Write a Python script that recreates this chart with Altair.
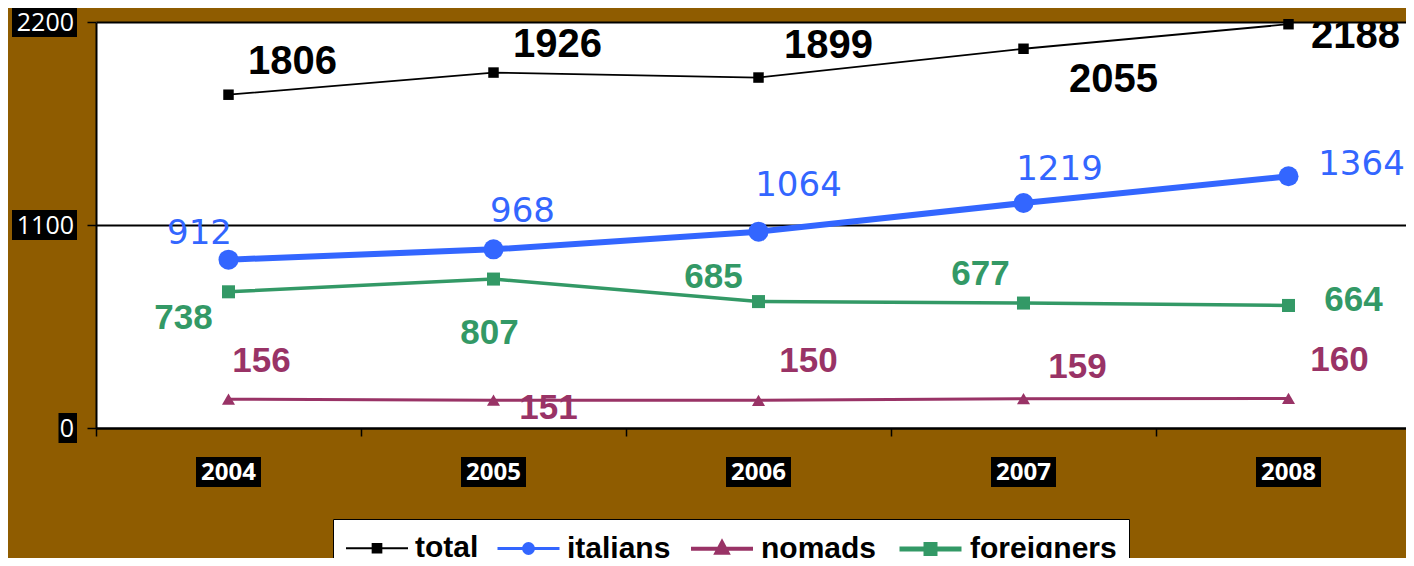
import altair as alt
import pandas as pd

# ---------------- data ----------------
years = ["2004", "2005", "2006", "2007", "2008"]
series = ["total", "italians", "nomads", "foreigners"]
total = [1806, 1926, 1899, 2055, 2188]
italians = [912, 968, 1064, 1219, 1364]
nomads = [156, 151, 150, 159, 160]
foreigners = [738, 807, 685, 677, 664]
y_ticks = [0, 1100, 2200]

# ---------------- styling ----------------
colors = ["#000000", "#3366FF", "#993366", "#339966"]
line_widths = [1.8, 6, 3, 3.5]
point_shapes = ["square", "circle", "triangle-up", "square"]
point_sizes = [110, 400, 170, 170]
label_fonts = ["Liberation Sans", "DejaVu Sans", "Liberation Sans", "Liberation Sans"]
label_weights = ["bold", "normal", "bold", "bold"]
label_sizes = [40, 34, 35, 35]
# pixel offsets of data labels from their points
label_dx = {
    "total": [64, 64, 70, 90, 67],
    "italians": [-29, 29, 40, 36, 73],
    "nomads": [33, 55, 50, 54, 51],
    "foreigners": [-45, -4, -45, -43, 65],
}
label_dy = {
    "total": [-33, -28, -32, 31, 12],
    "italians": [-26, -37, -46, -33, -11],
    "nomads": [-38, 8, -39, -32, -38],
    "foreigners": [26, 54, -25, -29, -5],
}
legend_paths = [
    "M-1,0L3,0M0.72,-0.28L1.28,-0.28L1.28,0.28L0.72,0.28Z",
    "M-1,0L3,0M1.32,0A0.32,0.32,0,1,1,0.68,0A0.32,0.32,0,1,1,1.32,0Z",
    "M-1,0L3,0M1,-0.4L1.35,0.25L0.65,0.25Z",
    "M-1,0L3,0M0.71,-0.29L1.29,-0.29L1.29,0.29L0.71,0.29Z",
]
legend_widths = [2, 5, 4, 4]

values = {"total": total, "italians": italians, "nomads": nomads, "foreigners": foreigners}
rows = []
for s in series:
    for i, yv in enumerate(years):
        rows.append({"year": yv, "series": s, "value": values[s][i]})
df = pd.DataFrame(rows)
df_years = pd.DataFrame({"year": years})
df_ticks = pd.DataFrame({"tick": y_ticks, "label": [str(t) for t in y_ticks]})

x_scale = alt.Scale(type="band", domain=years, range=[0, 1325], paddingInner=0, paddingOuter=0)
y_scale = alt.Scale(domain=[0, 2200], nice=False, zero=True)

x_axis = alt.Axis(title=None, labels=False, domainColor="black", domainWidth=2,
                  tickColor="black", tickWidth=1.5, tickSize=8, tickBand="extent",
                  grid=False)
y_axis = alt.Axis(title=None, labels=False, values=y_ticks, domainColor="black",
                  domainWidth=2, tickColor="black", tickWidth=1.5, tickSize=9,
                  grid=True, gridColor="black", gridWidth=1.8)

X = alt.X("year:N", scale=x_scale, axis=x_axis)
Y = alt.Y("value:Q", scale=y_scale, axis=y_axis)

base = alt.Chart(df)
layers = []
for k, s in enumerate(series):
    sub = base.transform_filter(alt.datum.series == s)
    layers.append(sub.mark_line(color=colors[k], strokeWidth=line_widths[k]).encode(x=X, y=Y))
for k, s in enumerate(series):
    sub = base.transform_filter(alt.datum.series == s)
    layers.append(sub.mark_point(shape=point_shapes[k], size=point_sizes[k], filled=True,
                                 color=colors[k], opacity=1).encode(x=X, y=Y))
for k, s in enumerate(series):
    for i, yr in enumerate(years):
        sub = base.transform_filter((alt.datum.series == s) & (alt.datum.year == yr))
        layers.append(sub.mark_text(font=label_fonts[k], fontWeight=label_weights[k],
                                    fontSize=label_sizes[k], color=colors[k],
                                    align="center", baseline="middle", clip=True,
                                    dx=label_dx[s][i], dy=label_dy[s][i]).encode(
            x=X, y=Y, text="value:Q"))

# y tick labels with black boxes
ybox = alt.Chart(df_ticks).transform_calculate(
    bx1="-19", bx2="-19 - (3 + 15.5 * length(datum.label))"
).mark_rect(color="black", yOffset=-15, y2Offset=15).encode(
    x=alt.X("bx1:Q", scale=None, axis=None), x2="bx2:Q",
    y=alt.Y("tick:Q", scale=y_scale, axis=y_axis), y2="tick:Q")
ytext = alt.Chart(df_ticks).mark_text(font="Open Sans", fontSize=25, color="white",
                                      align="right", baseline="middle", dy=1).encode(
    x=alt.value(-22), y=alt.Y("tick:Q", scale=y_scale, axis=y_axis), text="label:N")

# x labels with black boxes
xbox = alt.Chart(df_years).mark_point(
    shape="M-1,-0.46L1,-0.46L1,0.46L-1,0.46Z", size=4225, filled=True,
    color="black", opacity=1).encode(x=X, y=alt.value(450))
xtext = alt.Chart(df_years).mark_text(font="Open Sans", fontWeight="bold", fontSize=24,
                                      color="white", align="center",
                                      baseline="middle").encode(
    x=X, y=alt.value(451), text="year:N")

leg = alt.Legend(title=None, orient="none", legendX=237, legendY=497,
                 direction="horizontal", fillColor="white", strokeColor="black",
                 padding=12, labelFont="Liberation Sans", labelFontSize=30,
                 labelFontWeight="bold", labelColor="black", labelOffset=37,
                 columnPadding=12, symbolSize=961, labelLimit=400, symbolOpacity=1)
legend_layer = base.transform_filter("false").mark_point(filled=True, opacity=1).encode(
    x=X, y=Y,
    fill=alt.Fill("series:N", scale=alt.Scale(domain=series, range=colors), legend=leg),
    stroke=alt.Stroke("series:N", scale=alt.Scale(domain=series, range=colors), legend=leg),
    shape=alt.Shape("series:N", scale=alt.Scale(domain=series, range=legend_paths), legend=leg),
    strokeWidth=alt.StrokeWidth("series:N", scale=alt.Scale(domain=series, range=legend_widths),
                                legend=leg),
)

chart = alt.layer(*layers, ybox, ytext, xbox, xtext, legend_layer).properties(
    width=1310, height=406,
    autosize=alt.AutoSizeParams(type="none"),
    padding={"left": 88, "top": 14, "right": 0, "bottom": 130},
    background="#8F5C00",
).configure_view(fill="white", stroke=None)

chart.save("out.html", embed_options={"renderer": "svg", "actions": False})
